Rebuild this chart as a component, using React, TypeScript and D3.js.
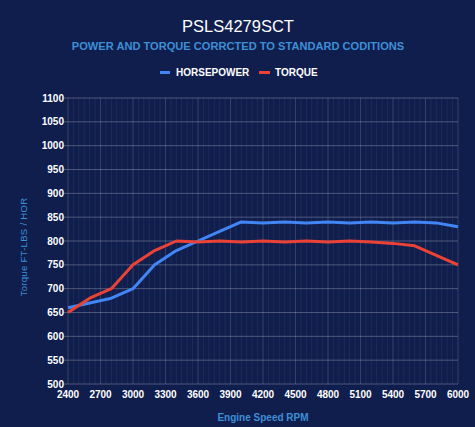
import React from "react";
import * as d3 from "d3";

// ---------------------------------------------------------------------------
// Data
// ---------------------------------------------------------------------------

const RPM = [
  2400, 2600, 2800, 3000, 3200, 3400, 3600, 3800, 4000, 4200, 4400, 4600,
  4800, 5000, 5200, 5400, 5600, 5800, 6000,
];

const HORSEPOWER = [
  660, 670, 680, 700, 750, 780, 800, 820, 840, 838, 840, 838, 840, 838, 840,
  838, 840, 838, 830,
];

const TORQUE = [
  650, 680, 700, 750, 780, 800, 798, 800, 798, 800, 798, 800, 798, 800, 798,
  795, 790, 770, 750,
];

const X_TICKS = [
  2400, 2700, 3000, 3300, 3600, 3900, 4200, 4500, 4800, 5100, 5400, 5700, 6000,
];

const Y_TICKS = [
  500, 550, 600, 650, 700, 750, 800, 850, 900, 950, 1000, 1050, 1100,
];

// ---------------------------------------------------------------------------
// Layout / styling
// ---------------------------------------------------------------------------

const W = 475;
const H = 427;
const BG = "#101e4d";
const FONT = "'Liberation Sans', Arial, sans-serif";
const BLUE = "#4285f4";
const RED = "#ea4335";
const ACCENT = "#3d8fd6";

const margin = { left: 68, right: 17, top: 98, bottom: 43 };

export default function App() {
  const x = d3
    .scaleLinear()
    .domain([2400, 6000])
    .range([margin.left, W - margin.right]);
  const y = d3
    .scaleLinear()
    .domain([500, 1100])
    .range([H - margin.bottom, margin.top]);

  const line = d3
    .line<number>()
    .x((_d, i) => x(RPM[i]))
    .y((d) => y(d));

  // faint minor verticals every 50 rpm
  const minor = d3.range(2400, 6001, 50);

  return (
    <svg
      width={W}
      height={H}
      style={{ position: "absolute", left: 0, top: 0, background: BG }}
      fontFamily={FONT}
    >
      <rect width={W} height={H} fill={BG} />

      {/* Title */}
      <text x={238} y={32} textAnchor="middle" fill="#ffffff" fontSize={16.5}>
        PSLS4279SCT
      </text>
      <text
        x={238}
        y={50}
        textAnchor="middle"
        fill={ACCENT}
        fontSize={11.1}
        fontWeight="bold"
      >
        POWER AND TORQUE CORRCTED TO STANDARD CODITIONS
      </text>

      {/* Legend */}
      <rect x={160} y={71} width={10} height={3} fill={BLUE} />
      <text x={176} y={76} fill="#ffffff" fontSize={10} fontWeight="bold">
        HORSEPOWER
      </text>
      <rect x={259} y={71} width={11} height={3} fill={RED} />
      <text x={275} y={76} fill="#ffffff" fontSize={10} fontWeight="bold">
        TORQUE
      </text>

      {/* Minor vertical grid */}
      {minor.map((v) => (
        <line
          key={"m" + v}
          x1={x(v)}
          x2={x(v)}
          y1={y(1100)}
          y2={y(500)}
          stroke="#ffffff"
          strokeOpacity={0.06}
        />
      ))}
      {X_TICKS.map((v) => (
        <line
          key={"vx" + v}
          x1={x(v)}
          x2={x(v)}
          y1={y(1100)}
          y2={y(500)}
          stroke="#ffffff"
          strokeOpacity={0.1}
        />
      ))}

      {/* Horizontal grid + y ticks */}
      {Y_TICKS.map((v) => (
        <g key={"y" + v}>
          <line
            x1={margin.left - 5}
            x2={W - margin.right}
            y1={y(v)}
            y2={y(v)}
            stroke="#ffffff"
            strokeOpacity={0.25}
          />
          <text
            x={margin.left - 4}
            y={y(v)}
            dy="0.35em"
            textAnchor="end"
            fill="#ffffff"
            fontSize={10}
            fontWeight="bold"
          >
            {v}
          </text>
        </g>
      ))}

      {/* X tick labels */}
      {X_TICKS.map((v) => (
        <text
          key={"x" + v}
          x={x(v)}
          y={398}
          textAnchor="middle"
          fill="#ffffff"
          fontSize={10}
          fontWeight="bold"
        >
          {v}
        </text>
      ))}

      {/* Series */}
      <path
        d={line(HORSEPOWER) ?? ""}
        fill="none"
        stroke={BLUE}
        strokeWidth={3}
        strokeLinejoin="round"
      />
      <path
        d={line(TORQUE) ?? ""}
        fill="none"
        stroke={RED}
        strokeWidth={3}
        strokeLinejoin="round"
      />

      {/* Axis titles */}
      <text
        x={263}
        y={421}
        textAnchor="middle"
        fill={ACCENT}
        fontSize={10}
        fontWeight="bold"
      >
        Engine Speed RPM
      </text>
      <text
        transform="translate(27, 247) rotate(-90)"
        textAnchor="middle"
        fill={ACCENT}
        fontSize={9.5}
        letterSpacing={0.3}
      >
        Torque FT-LBS / HOR
      </text>
    </svg>
  );
}
